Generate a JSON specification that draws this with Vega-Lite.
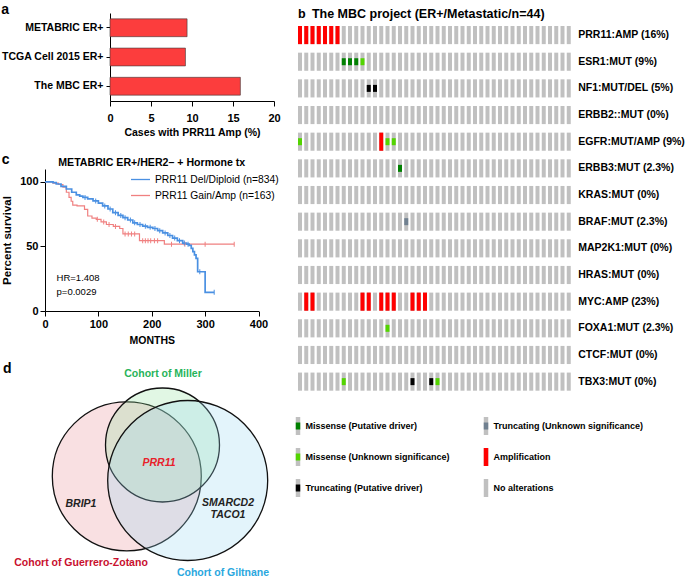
{
  "$schema": "https://vega.github.io/schema/vega-lite/v6.json",
  "padding": {"left": 0, "top": 0, "right": 0, "bottom": 0},
  "config": {
    "font": "Liberation Sans",
    "view": {"stroke": null},
    "axis": {"domainColor": "#000", "tickColor": "#000", "labelColor": "#000", "titleColor": "#000", "labelFontWeight": "bold", "titleFontWeight": "bold", "grid": false},
    "title": {"color": "#000", "fontWeight": "bold"},
    "text": {"font": "Liberation Sans", "color": "#000"}
  },
  "datasets": {
    "cohortAmp": [
      {"cohort": "METABRIC ER+", "pct": 9.4},
      {"cohort": "TCGA Cell 2015 ER+", "pct": 9.2},
      {"cohort": "The MBC ER+", "pct": 15.9}
    ],
    "surv": [
      {"g": "Del", "m": 0, "s": 100}, {"g": "Del", "m": 8, "s": 100}, {"g": "Del", "m": 15, "s": 99.5}, {"g": "Del", "m": 21, "s": 98.4},
      {"g": "Del", "m": 30, "s": 96.5}, {"g": "Del", "m": 40, "s": 94.5}, {"g": "Del", "m": 50, "s": 92}, {"g": "Del", "m": 58.6, "s": 90},
      {"g": "Del", "m": 65, "s": 89}, {"g": "Del", "m": 71, "s": 88}, {"g": "Del", "m": 80, "s": 86.8}, {"g": "Del", "m": 90, "s": 85.3},
      {"g": "Del", "m": 100, "s": 83.5}, {"g": "Del", "m": 108, "s": 81.4}, {"g": "Del", "m": 118, "s": 79}, {"g": "Del", "m": 127, "s": 76.2},
      {"g": "Del", "m": 137, "s": 74}, {"g": "Del", "m": 146, "s": 72.3}, {"g": "Del", "m": 155, "s": 70.5}, {"g": "Del", "m": 164.5, "s": 68.3},
      {"g": "Del", "m": 173, "s": 67}, {"g": "Del", "m": 183, "s": 65.7}, {"g": "Del", "m": 192, "s": 64.8}, {"g": "Del", "m": 202, "s": 63.9},
      {"g": "Del", "m": 211, "s": 62.2}, {"g": "Del", "m": 220.5, "s": 60.5}, {"g": "Del", "m": 230, "s": 58.5}, {"g": "Del", "m": 239, "s": 56.5},
      {"g": "Del", "m": 248, "s": 54.5}, {"g": "Del", "m": 258, "s": 52.6}, {"g": "Del", "m": 265, "s": 51.8}, {"g": "Del", "m": 270, "s": 50.8},
      {"g": "Del", "m": 274, "s": 48.5}, {"g": "Del", "m": 277, "s": 46}, {"g": "Del", "m": 280, "s": 43.5}, {"g": "Del", "m": 283, "s": 40.8},
      {"g": "Del", "m": 286, "s": 30.4}, {"g": "Del", "m": 298, "s": 30.4}, {"g": "Del", "m": 300, "s": 14.5}, {"g": "Del", "m": 317, "s": 14.5},
      {"g": "Gain", "m": 0, "s": 100}, {"g": "Gain", "m": 15, "s": 99}, {"g": "Gain", "m": 25, "s": 98}, {"g": "Gain", "m": 33.6, "s": 96},
      {"g": "Gain", "m": 40, "s": 92}, {"g": "Gain", "m": 45, "s": 88}, {"g": "Gain", "m": 49, "s": 85}, {"g": "Gain", "m": 52, "s": 82},
      {"g": "Gain", "m": 60, "s": 81.4}, {"g": "Gain", "m": 74, "s": 78.8}, {"g": "Gain", "m": 80, "s": 73.6}, {"g": "Gain", "m": 88, "s": 72},
      {"g": "Gain", "m": 96, "s": 71}, {"g": "Gain", "m": 105, "s": 69}, {"g": "Gain", "m": 115, "s": 67}, {"g": "Gain", "m": 128, "s": 65.5},
      {"g": "Gain", "m": 140, "s": 63.9}, {"g": "Gain", "m": 146, "s": 59.7}, {"g": "Gain", "m": 177, "s": 54.5}, {"g": "Gain", "m": 223.6, "s": 51.8},
      {"g": "Gain", "m": 354.5, "s": 51.8}
    ],
    "censor": [
      {"g": "Gain", "m": 98, "s": 71}, {"g": "Gain", "m": 110, "s": 69}, {"g": "Gain", "m": 120, "s": 67}, {"g": "Gain", "m": 132, "s": 65.5},
      {"g": "Gain", "m": 150, "s": 59.7}, {"g": "Gain", "m": 156, "s": 59.7}, {"g": "Gain", "m": 162, "s": 59.7}, {"g": "Gain", "m": 168, "s": 59.7},
      {"g": "Gain", "m": 183, "s": 54.5}, {"g": "Gain", "m": 188, "s": 54.5}, {"g": "Gain", "m": 193, "s": 54.5}, {"g": "Gain", "m": 198, "s": 54.5},
      {"g": "Gain", "m": 205, "s": 54.5}, {"g": "Gain", "m": 211, "s": 54.5}, {"g": "Gain", "m": 237, "s": 51.8}, {"g": "Gain", "m": 262, "s": 51.8},
      {"g": "Gain", "m": 300, "s": 51.8}, {"g": "Gain", "m": 354.5, "s": 51.8},
      {"g": "Del", "m": 75, "s": 88}, {"g": "Del", "m": 95, "s": 85.3}, {"g": "Del", "m": 112, "s": 81.4}, {"g": "Del", "m": 122, "s": 79},
      {"g": "Del", "m": 132, "s": 76.2}, {"g": "Del", "m": 142, "s": 74}, {"g": "Del", "m": 150, "s": 72.3}, {"g": "Del", "m": 160, "s": 70.5},
      {"g": "Del", "m": 168, "s": 68.3}, {"g": "Del", "m": 178, "s": 67}, {"g": "Del", "m": 188, "s": 65.7}, {"g": "Del", "m": 197, "s": 64.8},
      {"g": "Del", "m": 206, "s": 63.9}, {"g": "Del", "m": 215, "s": 62.2}, {"g": "Del", "m": 225, "s": 60.5}, {"g": "Del", "m": 234, "s": 58.5},
      {"g": "Del", "m": 243, "s": 56.5}, {"g": "Del", "m": 252, "s": 54.5}, {"g": "Del", "m": 261, "s": 52.6}, {"g": "Del", "m": 268, "s": 51.8},
      {"g": "Del", "m": 290, "s": 30.4}, {"g": "Del", "m": 317, "s": 14.5}
    ],
    "survText": [
      {"m": 21.7, "s": 25.4, "label": "HR=1.408"},
      {"m": 21.7, "s": 14.7, "label": "p=0.0029"}
    ],
    "genes": [
      {"gene": "PRR11", "label": "PRR11:AMP (16%)"}, {"gene": "ESR1", "label": "ESR1:MUT (9%)"},
      {"gene": "NF1", "label": "NF1:MUT/DEL (5%)"}, {"gene": "ERBB2", "label": "ERBB2::MUT (0%)"},
      {"gene": "EGFR", "label": "EGFR:MUT/AMP (9%)"}, {"gene": "ERBB3", "label": "ERBB3:MUT (2.3%)"},
      {"gene": "KRAS", "label": "KRAS:MUT (0%)"}, {"gene": "BRAF", "label": "BRAF:MUT (2.3%)"},
      {"gene": "MAP2K1", "label": "MAP2K1:MUT (0%)"}, {"gene": "HRAS", "label": "HRAS:MUT (0%)"},
      {"gene": "MYC", "label": "MYC:AMP (23%)"}, {"gene": "FOXA1", "label": "FOXA1:MUT (2.3%)"},
      {"gene": "CTCF", "label": "CTCF:MUT (0%)"}, {"gene": "TBX3", "label": "TBX3:MUT (0%)"}
    ],
    "mbc": [
      {"s": 1, "PRR11": "AMP", "EGFR": "MISV"}, {"s": 2, "PRR11": "AMP", "MYC": "AMP"}, {"s": 3, "PRR11": "AMP", "MYC": "AMP"},
      {"s": 4, "PRR11": "AMP"}, {"s": 5, "PRR11": "AMP"}, {"s": 6, "PRR11": "AMP"}, {"s": 7, "PRR11": "AMP"},
      {"s": 8, "ESR1": "MISD", "TBX3": "MISV"}, {"s": 9, "ESR1": "MISD"}, {"s": 10, "ESR1": "MISD"},
      {"s": 11, "ESR1": "MISV", "MYC": "AMP"}, {"s": 12, "NF1": "TRD", "MYC": "AMP"}, {"s": 13, "NF1": "TRD"},
      {"s": 14, "EGFR": "AMP", "MYC": "AMP"}, {"s": 15, "EGFR": "MISV", "MYC": "AMP", "FOXA1": "MISV"},
      {"s": 16, "EGFR": "MISV", "MYC": "AMP"}, {"s": 17, "ERBB3": "MISD"}, {"s": 18, "BRAF": "TRV"},
      {"s": 19, "MYC": "AMP", "TBX3": "TRD"}, {"s": 20, "MYC": "AMP"}, {"s": 21, "MYC": "AMP"},
      {"s": 22, "TBX3": "TRD"}, {"s": 23, "TBX3": "MISV"},
      {"s": 24}, {"s": 25}, {"s": 26}, {"s": 27}, {"s": 28}, {"s": 29}, {"s": 30}, {"s": 31}, {"s": 32}, {"s": 33},
      {"s": 34}, {"s": 35}, {"s": 36}, {"s": 37}, {"s": 38}, {"s": 39}, {"s": 40}, {"s": 41}, {"s": 42}, {"s": 43}, {"s": 44}
    ],
    "altLegend": [
      {"item": "Missense (Putative driver)", "alt": "MISD", "col": 1, "row": 1},
      {"item": "Truncating (Unknown significance)", "alt": "TRV", "col": 2, "row": 1},
      {"item": "Missense (Unknown significance)", "alt": "MISV", "col": 1, "row": 2},
      {"item": "Amplification", "alt": "AMP", "col": 2, "row": 2},
      {"item": "Truncating (Putative driver)", "alt": "TRD", "col": 1, "row": 3},
      {"item": "No alterations", "alt": "NONE", "col": 2, "row": 3}
    ],
    "venn": [
      {"cohort": "Guerrero-Zotano", "x": 125.8, "y": 116.3, "d": 149, "z": 1},
      {"cohort": "Miller", "x": 161.5, "y": 85, "d": 114, "z": 2},
      {"cohort": "Giltnane", "x": 186.7, "y": 120.5, "d": 160, "z": 3}
    ],
    "vennCohortLabels": [
      {"cohort": "Miller", "label": "Cohort of Miller", "x": 162, "y": 14},
      {"cohort": "Guerrero-Zotano", "label": "Cohort of Guerrero-Zotano", "x": 80, "y": 203},
      {"cohort": "Giltnane", "label": "Cohort of Giltnane", "x": 222, "y": 213}
    ],
    "vennGenes": [
      {"label": "PRR11", "x": 158, "y": 103},
      {"label": "BRIP1", "x": 80, "y": 144},
      {"label": "SMARCD2", "x": 227, "y": 143},
      {"label": "TACO1", "x": 227, "y": 155}
    ]
  },
  "resolve": {"scale": {"color": "independent", "fill": "independent", "size": "independent"}, "legend": {"color": "independent"}},
  "hconcat": [
    {
      "spacing": 0,
      "resolve": {"scale": {"color": "independent", "fill": "independent", "size": "independent"}, "legend": {"color": "independent"}},
      "vconcat": [
        {"width": 1, "height": 2, "data": {"values": []}, "mark": "point", "encoding": {}},
        {
          "columns": 2,
          "align": {"row": "none", "column": "none"},
          "spacing": {"row": 14, "column": 0},
          "resolve": {"scale": {"color": "independent", "fill": "independent", "size": "independent"}, "legend": {"color": "independent"}},
          "concat": [
            {"width": 1, "height": 1, "data": {"values": []}, "mark": "point", "encoding": {}},
            {
              "width": 164, "height": 88,
              "title": {"text": "a", "anchor": "start", "frame": "bounds", "fontSize": 14, "offset": -3.5},
              "data": {"name": "cohortAmp"},
              "mark": {"type": "bar", "fill": "#fc3d3d", "stroke": "#3a3a3a", "strokeWidth": 0.6},
              "encoding": {
                "y": {"field": "cohort", "type": "nominal", "sort": null, "scale": {"paddingInner": 0.39, "paddingOuter": 0.2},
                      "axis": {"title": null, "labelFontSize": 10.5, "tickSize": 4, "labelPadding": 3}},
                "x": {"field": "pct", "type": "quantitative", "scale": {"domain": [0, 20], "nice": false},
                      "axis": {"values": [0, 5, 10, 15, 20], "title": "Cases with PRR11 Amp (%)", "labelFontSize": 11, "titleFontSize": 10.5, "tickSize": 5, "labelPadding": 6, "titlePadding": 4, "labelFlush": false}}
              }
            },
            {"width": 1, "height": 1, "data": {"values": []}, "mark": "point", "encoding": {}},
            {
              "width": 213.5, "height": 142,
              "title": {"text": "c", "anchor": "start", "frame": "bounds", "fontSize": 14, "offset": -9},
              "encoding": {
                "x": {"field": "m", "type": "quantitative", "scale": {"domain": [0, 400], "nice": false},
                      "axis": {"values": [0, 100, 200, 300, 400], "title": "MONTHS", "labelFontSize": 11, "titleFontSize": 10.5, "tickSize": 5, "titlePadding": 6, "labelFlush": false}},
                "y": {"field": "s", "type": "quantitative", "scale": {"domain": [0, 110], "nice": false},
                      "axis": {"values": [0, 50, 100], "title": "Percent survival", "labelFontSize": 11, "titleFontSize": 11.5, "tickSize": 5, "titlePadding": 7}}
              },
              "layer": [
                {
                  "data": {"name": "surv"},
                  "transform": [{"filter": "datum.g === 'Gain'"}],
                  "mark": {"type": "line", "interpolate": "step-after", "strokeWidth": 1.2},
                  "encoding": {
                    "color": {"field": "g", "type": "nominal", "scale": {"domain": ["Del", "Gain"], "range": ["#4a90e2", "#f08080"]},
                              "legend": {"orient": "none", "legendX": 85, "legendY": 0, "title": null, "symbolType": "stroke", "symbolSize": 361, "symbolStrokeWidth": 1.3,
                                         "labelFontSize": 10.3, "labelOffset": 4, "rowPadding": 0, "labelLimit": 300,
                                         "labelExpr": "datum.label === 'Del' ? 'PRR11 Del/Diploid (n=834)' : 'PRR11 Gain/Amp (n=163)'"}}
                  }
                },
                {
                  "data": {"name": "surv"},
                  "transform": [{"filter": "datum.g === 'Del'"}],
                  "mark": {"type": "line", "interpolate": "step-after", "strokeWidth": 1.7},
                  "encoding": {"color": {"field": "g", "type": "nominal"}}
                },
                {
                  "data": {"name": "censor"},
                  "mark": {"type": "tick", "orient": "vertical", "size": 5, "thickness": 1, "opacity": 1},
                  "encoding": {"color": {"field": "g", "type": "nominal"}}
                },
                {
                  "data": {"name": "survText"},
                  "mark": {"type": "text", "align": "left", "baseline": "middle", "fontSize": 9.5},
                  "encoding": {"text": {"field": "label"}}
                },
                {
                  "data": {"values": [{"m": 200, "s": 115, "label": "METABRIC ER+/HER2– + Hormone tx"}]},
                  "mark": {"type": "text", "align": "center", "baseline": "middle", "fontSize": 10.6, "fontWeight": "bold"},
                  "encoding": {"text": {"field": "label"}}
                }
              ]
            },
            {"width": 1, "height": 1, "data": {"values": []}, "mark": "point", "encoding": {}},
            {
              "width": 290, "height": 219,
              "encoding": {
                "x": {"field": "x", "type": "quantitative", "scale": {"domain": [0, 290], "nice": false}, "axis": null},
                "y": {"field": "y", "type": "quantitative", "scale": {"domain": [0, 219], "nice": false, "reverse": true}, "axis": null}
              },
              "layer": [
                {
                  "data": {"name": "venn"},
                  "mark": {"type": "point", "shape": "circle", "filled": true, "opacity": 1, "fillOpacity": 0.27, "stroke": "#111", "strokeWidth": 1.3, "strokeOpacity": 1},
                  "encoding": {
                    "size": {"field": "d", "type": "quantitative", "scale": {"type": "pow", "exponent": 2, "domain": [0, 160], "range": [0, 25600]}, "legend": null},
                    "fill": {"field": "cohort", "type": "nominal", "scale": {"domain": ["Guerrero-Zotano", "Miller", "Giltnane"], "range": ["#ea8c95", "#8fe39c", "#96d6f2"]}, "legend": null},
                    "order": {"field": "z"}
                  }
                },
                {
                  "data": {"name": "vennCohortLabels"},
                  "mark": {"type": "text", "fontSize": 10.5, "fontWeight": "bold", "baseline": "middle", "align": "center"},
                  "encoding": {
                    "text": {"field": "label"},
                    "color": {"field": "cohort", "type": "nominal", "scale": {"domain": ["Guerrero-Zotano", "Miller", "Giltnane"], "range": ["#c8102e", "#27b35a", "#2aa7de"]}, "legend": null}
                  }
                },
                {
                  "data": {"name": "vennGenes"},
                  "mark": {"type": "text", "fontSize": 10.5, "fontWeight": "bold", "fontStyle": "italic", "baseline": "middle", "align": "center"},
                  "encoding": {
                    "text": {"field": "label"},
                    "color": {"condition": {"test": "datum.label === 'PRR11'", "value": "#e8212b"}, "value": "#222222"}
                  }
                },
                {
                  "data": {"values": [{"x": 2, "y": 9, "label": "d"}]},
                  "mark": {"type": "text", "align": "left", "baseline": "middle", "fontSize": 14, "fontWeight": "bold"},
                  "encoding": {"text": {"field": "label"}}
                }
              ]
            }
          ]
        }
      ]
    },
    {
      "spacing": 0,
      "resolve": {"scale": {"color": "independent"}, "legend": {"color": "independent"}},
      "vconcat": [
        {"width": 1, "height": 7, "data": {"values": []}, "mark": "point", "encoding": {}},
        {
          "spacing": 26,
          "resolve": {"scale": {"color": "independent"}, "legend": {"color": "independent"}},
          "vconcat": [
            {
              "width": 272.75, "height": 364.7,
              "title": {"text": "b\u2002The MBC project (ER+/Metastatic/n=44)", "anchor": "start", "frame": "bounds", "fontSize": 12.5, "offset": 6},
              "data": {"name": "mbc"},
              "transform": [
                {"fold": ["PRR11", "ESR1", "NF1", "ERBB2", "EGFR", "ERBB3", "KRAS", "BRAF", "MAP2K1", "HRAS", "MYC", "FOXA1", "CTCF", "TBX3"], "as": ["gene", "alt"]},
                {"lookup": "gene", "from": {"data": {"name": "genes"}, "key": "gene", "fields": ["label"]}}
              ],
              "encoding": {
                "x": {"field": "s", "type": "ordinal", "scale": {"paddingInner": 0.36, "paddingOuter": 0}, "axis": null},
                "y": {"field": "label", "type": "nominal",
                      "sort": ["PRR11:AMP (16%)", "ESR1:MUT (9%)", "NF1:MUT/DEL (5%)", "ERBB2::MUT (0%)", "EGFR:MUT/AMP (9%)", "ERBB3:MUT (2.3%)", "KRAS:MUT (0%)", "BRAF:MUT (2.3%)", "MAP2K1:MUT (0%)", "HRAS:MUT (0%)", "MYC:AMP (23%)", "FOXA1:MUT (2.3%)", "CTCF:MUT (0%)", "TBX3:MUT (0%)"],
                      "scale": {"paddingInner": 0.32, "paddingOuter": 0},
                      "axis": {"orient": "right", "domain": false, "ticks": false, "labelFontSize": 10.5, "labelPadding": 7, "title": null, "labelLimit": 0}}
              },
              "layer": [
                {"mark": {"type": "rect", "color": "#c0c0c0"}},
                {"transform": [{"filter": "datum.alt === 'AMP'"}], "mark": {"type": "rect", "color": "#ff0000"}},
                {
                  "transform": [{"filter": {"field": "alt", "oneOf": ["MISD", "MISV", "TRD", "TRV"]}}],
                  "mark": {"type": "tick", "orient": "vertical", "size": 7, "thickness": 4, "opacity": 1},
                  "encoding": {"color": {"field": "alt", "type": "nominal", "scale": {"domain": ["MISD", "MISV", "TRD", "TRV", "AMP", "NONE"], "range": ["#008000", "#53d400", "#000000", "#708090", "#ff0000", "#c0c0c0"]}, "legend": null}}
                }
              ]
            },
            {
              "width": 188, "height": 62,
              "data": {"name": "altLegend"},
              "encoding": {
                "x": {"field": "col", "type": "ordinal", "scale": {"type": "point", "padding": 0}, "axis": null},
                "y": {"field": "row", "type": "ordinal", "scale": {"type": "point", "padding": 0}, "axis": null}
              },
              "layer": [
                {"mark": {"type": "tick", "orient": "vertical", "size": 18, "thickness": 4.5, "color": "#c0c0c0", "opacity": 1}},
                {"transform": [{"filter": "datum.alt === 'AMP'"}], "mark": {"type": "tick", "orient": "vertical", "size": 18, "thickness": 4.5, "color": "#ff0000", "opacity": 1}},
                {
                  "transform": [{"filter": {"field": "alt", "oneOf": ["MISD", "MISV", "TRD", "TRV"]}}],
                  "mark": {"type": "tick", "orient": "vertical", "size": 7, "thickness": 4.5, "opacity": 1},
                  "encoding": {"color": {"field": "alt", "type": "nominal", "scale": {"domain": ["MISD", "MISV", "TRD", "TRV", "AMP", "NONE"], "range": ["#008000", "#53d400", "#000000", "#708090", "#ff0000", "#c0c0c0"]}, "legend": null}}
                },
                {"mark": {"type": "text", "align": "left", "baseline": "middle", "dx": 7.5, "fontSize": 9, "fontWeight": "bold"}, "encoding": {"text": {"field": "item"}}}
              ]
            }
          ]
        }
      ]
    }
  ],
  "spacing": 4
}
